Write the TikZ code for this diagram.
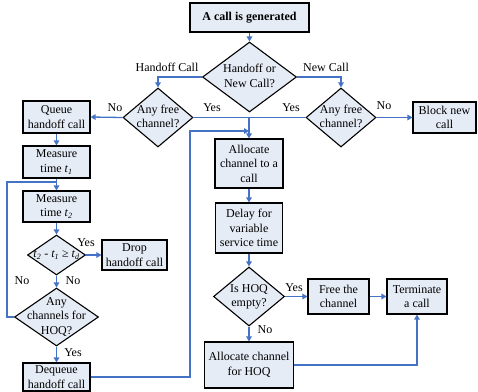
\documentclass[tikz,border=0pt]{standalone}
\usepackage{fontspec}
\setmainfont{Liberation Serif}
\usetikzlibrary{shapes.geometric,arrows.meta}
\definecolor{boxfill}{RGB}{230,236,246}
\definecolor{flowblue}{RGB}{68,114,196}
% lines of a decision, kept out of the diamond's size computation
\newcommand{\dlines}[1]{\makebox[0pt]{\begin{tabular}{@{}c@{}}#1\end{tabular}}}
\newcommand{\tsub}[1]{\textit{t\textsubscript{#1}}}
\begin{document}
\begin{tikzpicture}[x=1pt,y=-1pt,
  txt/.style={font=\fontsize{12}{14.5}\selectfont},
  procbox/.style={txt, draw=black, line width=1.1pt, fill=boxfill, rectangle,
    inner sep=0pt, align=center},
  decision/.style={txt, draw=black, line width=1.1pt, fill=boxfill, diamond,
    inner sep=0pt},
  link/.style={draw=flowblue, line width=1.3pt},
  flow/.style={link, -{Triangle[length=5pt,width=5.5pt]}},
  lbl/.style={txt, inner sep=0pt}]
\useasboundingbox (0,0) rectangle (478,391);

% process boxes and decisions
\node[procbox, minimum width=119, minimum height=29] (gen) at (249.5,17.5) {\textbf{A call is generated}};
\node[decision, minimum width=94, minimum height=70] (hn) at (249.5,77) {\dlines{Handoff or\\New Call?}};
\node[decision, minimum width=70, minimum height=59] (af1) at (158,117.5) {\dlines{Any free\\channel?}};
\node[decision, minimum width=70, minimum height=59] (af2) at (341,117.5) {\dlines{Any free\\channel?}};
\node[procbox, minimum width=63, minimum height=31] (block) at (444.5,117.5) {Block new\\call};

\node[procbox, minimum width=67, minimum height=32] (queue) at (56.5,117) {Queue\\handoff call};
\node[procbox, minimum width=67, minimum height=32] (t1) at (56.5,162) {Measure\\time \tsub{1}};
\node[procbox, minimum width=67, minimum height=31] (t2) at (56.5,206.5) {Measure\\time \tsub{2}};
\node[decision, minimum width=58, minimum height=40] (cond) at (56.5,255) {\dlines{\tsub{2} - \tsub{1} ≥ \tsub{d}}};
\node[procbox, minimum width=65, minimum height=30] (drop) at (134.5,255) {Drop\\handoff call};
\node[decision, minimum width=84, minimum height=58] (hoq) at (56.5,317) {\dlines{Any\\channels for\\HOQ?}};
\node[procbox, minimum width=67, minimum height=28] (deq) at (56.5,377) {Dequeue\\handoff call};

\node[procbox, minimum width=68, minimum height=49] (alloc) at (249,163.5) {Allocate\\channel to a\\call};
\node[procbox, minimum width=67, minimum height=50] (delay) at (249,228) {Delay for\\variable\\service time};
\node[decision, minimum width=71, minimum height=59] (empty) at (249,296.5) {\dlines{Is HOQ\\empty?}};
\node[procbox, minimum width=61, minimum height=35] (free) at (338.5,296.5) {Free the\\channel};
\node[procbox, minimum width=60, minimum height=35] (term) at (417,296.5) {Terminate\\a call};
\node[procbox, minimum width=89, minimum height=46] (hoqalloc) at (249,365) {Allocate channel\\for HOQ};

% junction points of the merging lines
\coordinate (yesjoin) at (alloc.north |- af1.east);
\coordinate (retleft) at (7,182);
\coordinate (retjoin) at (56.5,182);
\coordinate (backup) at (190,131);
\coordinate (backin) at (249,131);

% connectors
\draw[flow] (gen) -- (hn);
\draw[flow] (hn.west) -| (af1.north);
\draw[flow] (hn.east) -| (af2.north);
\draw[flow] (af1.west) -- (queue.east);
\draw[link] (af1.east) -- (af2.west);
\draw[flow] (yesjoin) -- (alloc.north);
\draw[flow] (af2.east) -- (block.west);
\draw[flow] (queue) -- (t1);
\draw[flow] (t1) -- (t2);
\draw[flow] (t2) -- (cond);
\draw[flow] (cond.east) -- (drop.west);
\draw[flow] (cond) -- (hoq);
\draw[link] (hoq.west) -| (retleft) -- (retjoin);
\draw[flow] (hoq) -- (deq);
\draw[flow] (deq.east) -| (backup) -- (backin);
\draw[flow] (alloc) -- (delay);
\draw[flow] (delay) -- (empty);
\draw[flow] (empty.east) -- (free.west);
\draw[flow] (free) -- (term);
\draw[flow] (empty) -- (hoqalloc);
\draw[flow] (hoqalloc.east) -| (term.south);

% connector labels
\node[lbl] (lhand) at (167,67) {Handoff Call};
\node[lbl] (lnew) at (326,67) {New Call};
\node[lbl] (lno1) at (115,108) {No};
\node[lbl] (lyes1) at (212,108) {Yes};
\node[lbl] (lyes2) at (291,108) {Yes};
\node[lbl] (lno2) at (384,106) {No};
\node[lbl] (lyes3) at (86,243) {Yes};
\node[lbl] (lno3) at (73,281) {No};
\node[lbl] (lno4) at (22,281) {No};
\node[lbl] (lyes4) at (73,353) {Yes};
\node[lbl] (lyes5) at (294,288) {Yes};
\node[lbl] (lno5) at (265,330) {No};
\end{tikzpicture}
\end{document}
